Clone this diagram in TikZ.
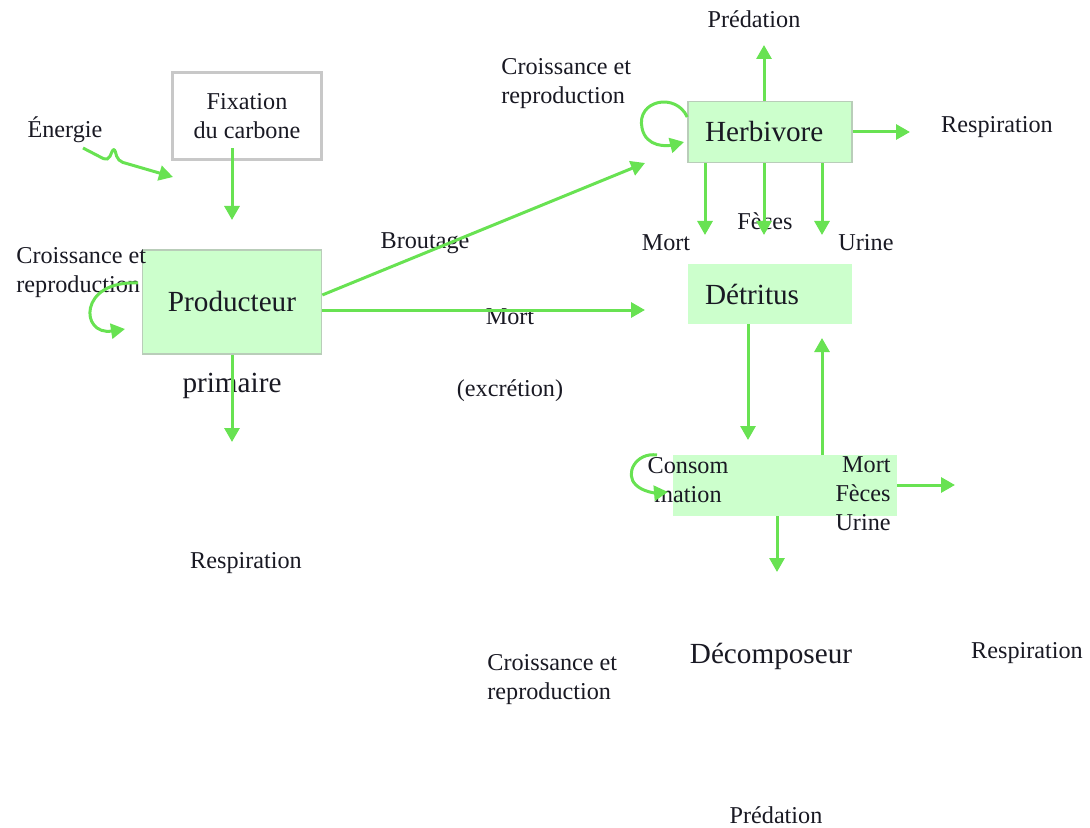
\documentclass[tikz,border=0pt]{standalone}
\usepackage{fontspec}
\setmainfont{Liberation Serif}
\usetikzlibrary{arrows.meta,positioning,calc}
\definecolor{flowgreen}{RGB}{104,226,82}
\definecolor{boxfill}{RGB}{204,255,204}
\definecolor{boxborder}{RGB}{185,205,185}
\definecolor{framegray}{RGB}{200,200,200}
\definecolor{labeltext}{RGB}{25,25,35}
\tikzset{
  compart/.style={fill=boxfill, draw=boxborder, line width=0.8pt,
    align=left, inner xsep=8.5pt, text=labeltext, font=\fontsize{14.6}{17}\selectfont},
  plain/.style={fill=boxfill, draw=none, inner sep=0pt},
  frame/.style={draw=framegray, line width=1.6pt, align=center,
    minimum width=74.5pt, minimum height=43.5pt, text=labeltext},
  tag/.style={text=labeltext, inner sep=1pt},
  bigtag/.style={tag, font=\fontsize{14.6}{17}\selectfont},
  flow/.style={-{Triangle[length=7pt,width=7.5pt]}, line width=1.5pt, draw=flowgreen}
}
\begin{document}
\begin{tikzpicture}[x=0.5pt, y=-0.5pt, font=\fontsize{12.1}{14.5}\selectfont]
  \useasboundingbox (0,0) rectangle (1090,828);

  % Producer side
  \node[frame] (fix) at (247,116) {Fixation\\du carbone};
  \node[compart, minimum width=89.5pt, minimum height=52pt, align=center, inner xsep=0pt]
    (prod) at (232,302) {Producteur};
  \node[bigtag] (prim) at (232,386) {primaire};
  \node[tag] (energy) at (65,130) {Énergie};
  \node[tag, anchor=west, align=left] (growprod) at (14,272.5) {Croissance et\\reproduction};
  \node[tag] (respprod) at (246,563) {Respiration};
  \node[tag] (brout) at (425,243) {Broutage};
  \node[tag] (mortprod) at (510,317) {Mort};
  \node[tag] (excr) at (510,391) {(excrétion)};

  \coordinate (fixtip) at (232,220);
  \coordinate (prodtip) at (232,442);
  \coordinate (sunstart) at (83,148);
  \coordinate (suntip) at (173,177);
  \coordinate (loopa) at (138,283);
  \coordinate (loopb) at (125,329);
  \coordinate (brouttip) at (645,163);
  \coordinate (morttip) at (645,310);

  \draw[flow] ([yshift=6.5pt]fix.south -| fixtip) -- (fixtip);
  \draw[flow] (prod.south) -- (prodtip);
  \draw[flow, rounded corners=2.5pt] (sunstart) -- (108,161) -- (114,147) -- (118,161) -- (suntip);
  \draw[flow] (loopa) .. controls (78,280) and (80,336) .. (loopb);
  \draw[flow] ([yshift=3.5pt]prod.east) -- (brouttip);
  \draw[flow] (prod.east |- morttip) -- (morttip);

  % Herbivore
  \node[compart, minimum width=82pt, minimum height=30.5pt, text width=65pt]
    (herb) at (770,132) {Herbivore};
  \node[tag] (predtop) at (754,19) {Prédation};
  \node[tag] (resptop) at (997,127) {Respiration};
  \node[tag, anchor=west, align=left] (growherb) at (499,84) {Croissance et\\reproduction};
  \node[tag] (mortherb) at (666,243) {Mort};
  \node[tag] (fecherb) at (765,221) {Fèces};
  \node[tag] (urherb) at (866,243) {Urine};

  \coordinate (predtip) at (764,45);
  \coordinate (resptip) at (910,132);
  \coordinate (downa) at (705,235);
  \coordinate (downb) at (764,235);
  \coordinate (downc) at (822,235);
  \coordinate (loopc) at (684,142);

  \draw[flow] (herb.north -| predtip) -- (predtip);
  \draw[flow] (herb.east) -- (resptip);
  \foreach \d in {downa,downb,downc}
    \draw[flow] (herb.south -| \d) -- (\d);
  \draw[flow] ([yshift=7.5pt]herb.west) .. controls (676,92) and (636,100) .. (642,128)
    .. controls (646,148) and (668,146) .. (loopc);

  % Detritus and decomposer
  \node[compart, draw=none, minimum width=82pt, minimum height=29.5pt, text width=65pt]
    (det) at (770,294) {Détritus};
  \node[plain, minimum width=112pt, minimum height=30.5pt] (cons) at (785,485.5) {};
  \node[tag, align=center] (consom) at (688,480.5) {Consom\\mation};
  \node[tag, anchor=east, align=right] (losses) at (893,494) {Mort\\Fèces\\Urine};
  \node[bigtag] (decomp) at (771,656) {Décomposeur};
  \node[tag] (respdec) at (1027,653) {Respiration};
  \node[tag, anchor=west, align=left] (growdec) at (485,679.5) {Croissance et\\reproduction};
  \node[tag] (predbot) at (776,815) {Prédation};

  \coordinate (dettip) at (748,440);
  \coordinate (uptip) at (822,338);
  \coordinate (outtip) at (955,485);
  \coordinate (bottip) at (777,572);
  \coordinate (loopd) at (668,492);

  \draw[flow] (det.south -| dettip) -- (dettip);
  \draw[flow] (cons.north -| uptip) -- (uptip);
  \draw[flow] (cons.east |- outtip) -- (outtip);
  \draw[flow] (cons.south -| bottip) -- (bottip);
  \draw[flow] (657,455) .. controls (636,452) and (624,474) .. (636,485)
    .. controls (643,492) and (656,493) .. (loopd);
\end{tikzpicture}
\end{document}
